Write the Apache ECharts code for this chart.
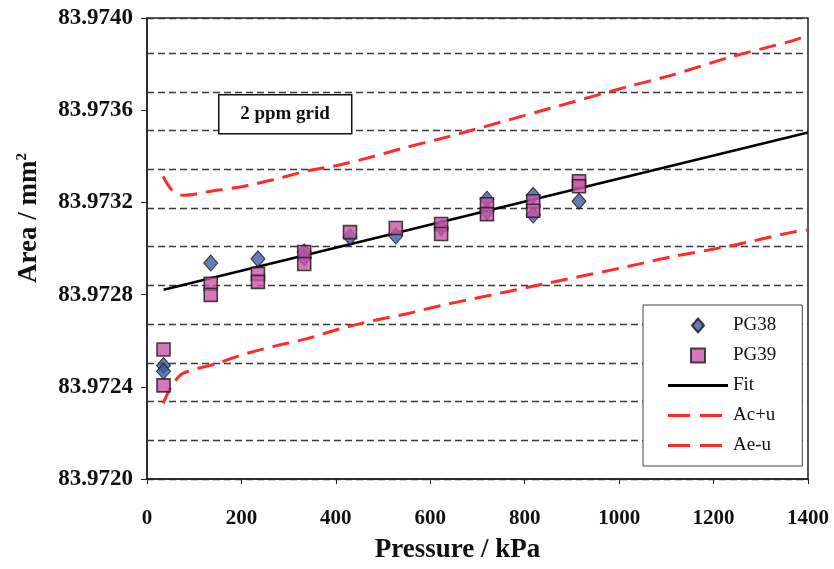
<!DOCTYPE html>
<html>
<head>
<meta charset="utf-8">
<script src="https://cdn.jsdelivr.net/npm/echarts@6/dist/echarts.min.js"></script>
<style>
  html, body { margin: 0; padding: 0; background: #fff; }
  #chart { width: 834px; height: 569px; }
</style>
</head>
<body>
<div id="chart"></div>
<script>
// PG38 (diamonds)
const pg38X = [35, 35, 135, 235, 333, 333, 430, 527, 623, 720, 720, 818, 818, 915];
const pg38Y = [83.972492, 83.972467, 83.972937, 83.972955, 83.972985, 83.97296, 83.97305, 83.973054, 83.97309, 83.973214, 83.97316, 83.973231, 83.973145, 83.973205];
// PG39 (squares)
const pg39X = [35, 35, 135, 135, 235, 235, 333, 333, 430, 527, 623, 623, 720, 720, 818, 818, 915, 915];
const pg39Y = [83.972562, 83.972406, 83.972847, 83.972799, 83.97289, 83.972855, 83.972985, 83.972933, 83.973071, 83.973089, 83.973106, 83.973063, 83.973192, 83.973149, 83.973205, 83.973164, 83.973292, 83.97327];
// straight fit
const fitX = [35, 1400];
const fitY = [83.972821, 83.973503];
// upper bound Ac+u
const upX = [34, 53, 76, 148, 197, 267, 339, 409, 479, 551, 621, 691, 850, 1023, 1108, 1235, 1368, 1400];
const upY = [83.973313, 83.973253, 83.973231, 83.973253, 83.973267, 83.973298, 83.973337, 83.973363, 83.973399, 83.97344, 83.973476, 83.973515, 83.973606, 83.973705, 83.97375, 83.97383, 83.973902, 83.973926];
// lower bound Ae-u
const loX = [34, 53, 76, 148, 197, 267, 339, 409, 479, 551, 621, 691, 850, 1023, 1108, 1235, 1368, 1400];
const loY = [83.972328, 83.972406, 83.972458, 83.972501, 83.972536, 83.972575, 83.972609, 83.972652, 83.972687, 83.972717, 83.972752, 83.972782, 83.97285, 83.972924, 83.972963, 83.973011, 83.973071, 83.97308];

const xTicks = [0, 200, 400, 600, 800, 1000, 1200, 1400];
const yMin = 83.972, yMax = 83.974, yStep = 0.0004;
// 2 ppm grid spacing, counted up from yMin
const ppmStep = 0.000167944;

const serif = '"Liberation Serif", "DejaVu Serif", serif';

const zip = (xs, ys) => xs.map((x, i) => [x, ys[i]]);

// legend icons (paths keep their aspect inside the 60x14 icon box)
const iconDiamond = 'path://M6,0L12,7L6,14L0,7Z';
const iconSquare = 'path://M0,0H12V12H0Z';
const iconLine = 'path://M0,0H60V3H0Z';
const iconDash = 'path://M0,0H22V3H0Z M32,0H54V3H32Z M60,1.5L60,1.5';

let myChart = echarts.init(document.getElementById('chart'));

let option = {
  animation: false,
  grid: {
    left: 147,
    right: 26,
    top: 18,
    bottom: 88,
    show: true,
    borderColor: '#222',
    borderWidth: 1.5
  },
  legend: {
    orient: 'vertical',
    left: 643,
    top: 305,
    backgroundColor: '#fff',
    borderColor: '#444',
    borderWidth: 1,
    padding: [11, 26, 11, 25],
    itemWidth: 60,
    itemHeight: 14,
    itemGap: 11,
    textStyle: { fontFamily: serif, fontSize: 19, color: '#111' },
    data: [
      { name: 'PG38', icon: iconDiamond },
      { name: 'PG39', icon: iconSquare },
      { name: 'Fit', icon: iconLine, itemStyle: { color: '#000', borderWidth: 0 } },
      { name: 'Ac+u', icon: iconDash, itemStyle: { color: '#ff2a2a', borderWidth: 0 } },
      { name: 'Ae-u', icon: iconDash, itemStyle: { color: '#ff2a2a', borderWidth: 0 } }
    ]
  },
  xAxis: {
    type: 'value',
    min: xTicks[0],
    max: xTicks[xTicks.length - 1],
    interval: 200,
    name: 'Pressure / kPa',
    nameLocation: 'middle',
    nameGap: 58,
    nameTextStyle: { fontFamily: serif, fontWeight: 'bold', fontSize: 27, color: '#111', padding: [0, 40, 0, 0] },
    axisLine: { lineStyle: { color: '#222', width: 1.5 } },
    axisTick: { length: 5, lineStyle: { color: '#222' } },
    axisLabel: {
      margin: 29,
      fontFamily: serif,
      fontWeight: 'bold',
      fontSize: 21,
      color: '#111',
      formatter: v => String(v)
    },
    splitLine: { show: false }
  },
  yAxis: [
    {
      type: 'value',
      min: yMin,
      max: yMax,
      interval: yStep,
      axisLine: { lineStyle: { color: '#222', width: 1.5 } },
      axisTick: { length: 6, lineStyle: { color: '#222' } },
      axisLabel: {
        margin: 14,
        fontFamily: serif,
        fontWeight: 'bold',
        fontSize: 23,
        color: '#111',
        formatter: v => v.toFixed(4)
      },
      splitLine: { show: false }
    },
    {
      // only here for the dashed 2 ppm grid
      type: 'value',
      position: 'right',
      min: 0,
      max: (yMax - yMin) / ppmStep,
      interval: 1,
      axisLine: { show: false },
      axisTick: { show: false },
      axisLabel: { show: false },
      splitLine: { show: true, lineStyle: { color: '#3a3a3a', width: 1.3, type: [7, 4] } }
    }
  ],
  graphic: [
    {
      type: 'rect',
      left: 218,
      top: 94,
      shape: { width: 133, height: 39 },
      style: { fill: '#fff', stroke: '#111', lineWidth: 1.5 },
      z: 10
    },
    {
      type: 'text',
      x: 285,
      y: 114,
      style: {
        text: '2 ppm grid',
        font: 'bold 19px ' + serif,
        fill: '#111',
        align: 'center',
        verticalAlign: 'middle'
      },
      z: 11
    },
    {
      type: 'text',
      x: 29,
      y: 218,
      rotation: Math.PI / 2,
      style: {
        text: 'Area / mm{sup|2}',
        font: 'bold 27px ' + serif,
        fill: '#111',
        align: 'center',
        verticalAlign: 'middle',
        rich: {
          sup: { font: 'bold 15px ' + serif, fill: '#111', verticalAlign: 'top', padding: [0, 0, 14, 0] }
        }
      }
    }
  ],
  series: [
    {
      name: 'PG38',
      type: 'scatter',
      symbol: 'diamond',
      symbolSize: [14, 16],
      itemStyle: { color: '#3a5ba8', borderColor: '#111', borderWidth: 1 },
      data: zip(pg38X, pg38Y),
      z: 5
    },
    {
      name: 'PG39',
      type: 'scatter',
      symbol: 'rect',
      symbolSize: 13,
      itemStyle: { color: '#cc55aa', borderColor: '#1a1a1a', borderWidth: 1.6 },
      data: zip(pg39X, pg39Y),
      z: 6
    },
    {
      name: 'Fit',
      type: 'line',
      symbol: 'none',
      lineStyle: { color: '#000', width: 2.5 },
      itemStyle: { color: '#000' },
      data: zip(fitX, fitY),
      z: 4
    },
    {
      name: 'Ac+u',
      type: 'line',
      symbol: 'none',
      smooth: 0.3,
      lineStyle: { color: '#ff2a2a', width: 3, type: [17, 9] },
      itemStyle: { color: '#ff2a2a' },
      data: zip(upX, upY),
      z: 3
    },
    {
      name: 'Ae-u',
      type: 'line',
      symbol: 'none',
      smooth: 0.3,
      lineStyle: { color: '#ff2a2a', width: 3, type: [17, 9] },
      itemStyle: { color: '#ff2a2a' },
      data: zip(loX, loY),
      z: 3
    }
  ]
};

myChart.setOption(option);
</script>
</body>
</html>
